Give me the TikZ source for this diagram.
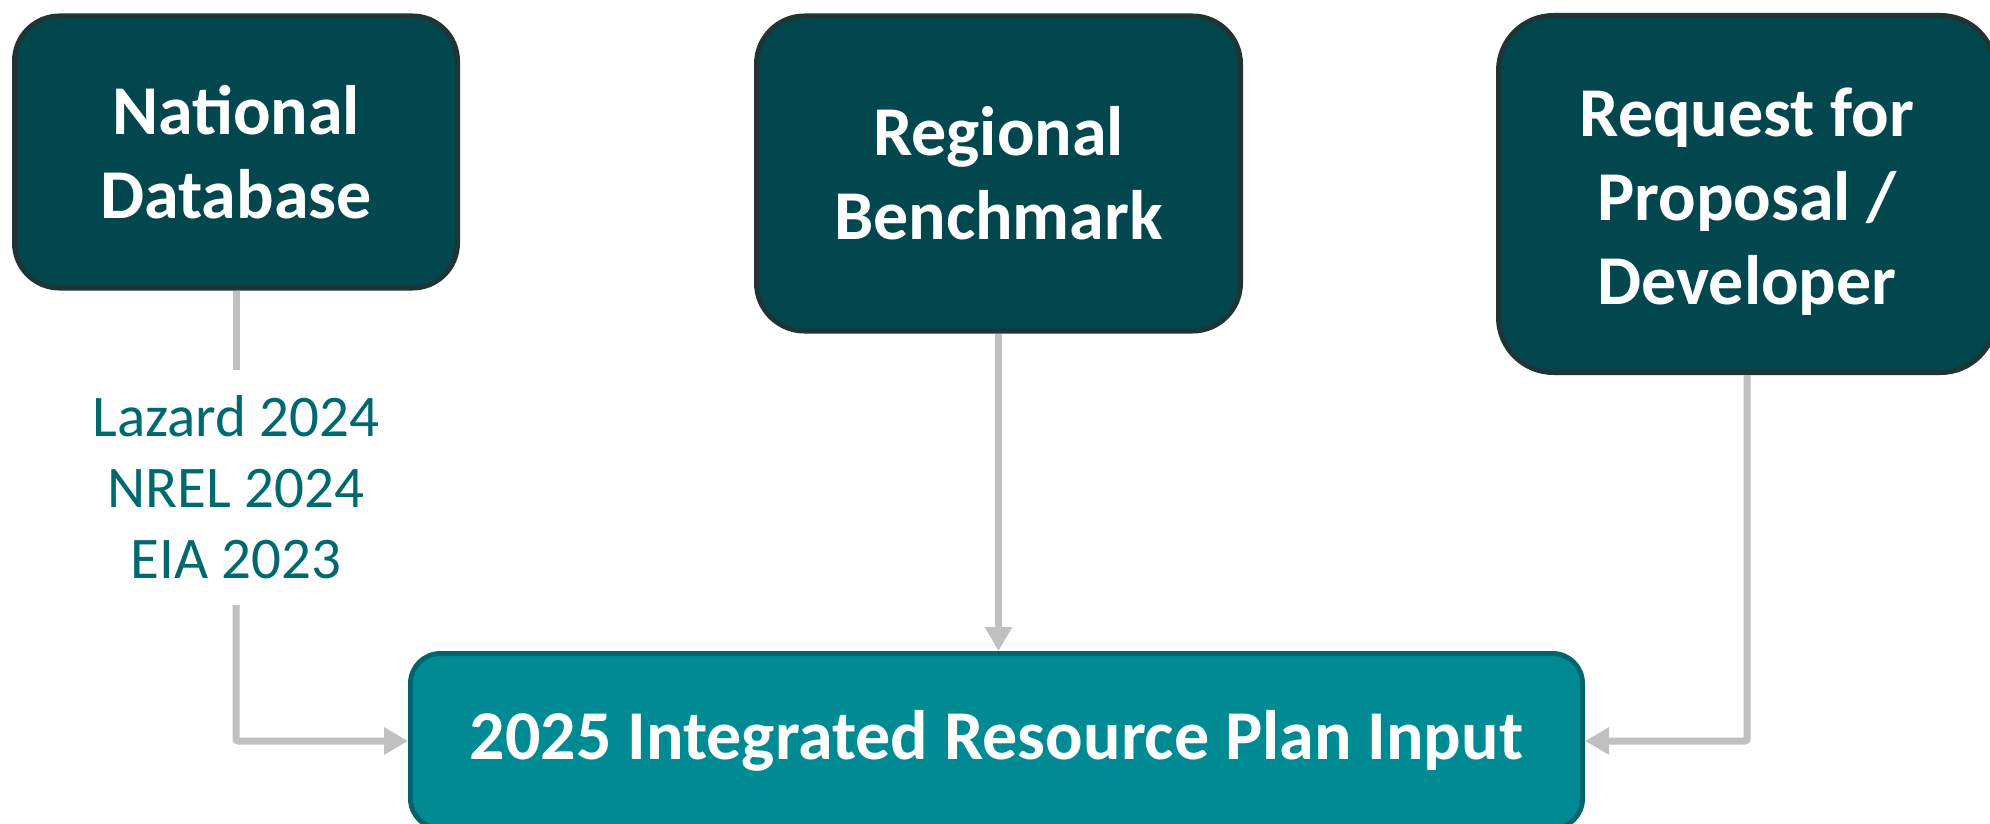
\documentclass[tikz,border=0pt]{standalone}
\usepackage{fontspec}
\setmainfont{Carlito}
\usetikzlibrary{arrows.meta}
\definecolor{darkbox}{HTML}{02474D}
\definecolor{darkedge}{HTML}{1F3434}
\definecolor{mainfill}{HTML}{008A94}
\definecolor{mainedge}{HTML}{00646C}
\definecolor{labtext}{HTML}{00686F}
\definecolor{conn}{HTML}{C0C0C0}
\tikzset{
  srcbox/.style={draw=darkedge, fill=darkbox, line width=5pt, text=white,
    align=center, inner sep=0pt, font=\bfseries\fontsize{70}{84}\selectfont},
  mainbox/.style={draw=mainedge, fill=mainfill, line width=5pt, text=white,
    rounded corners=30pt, align=center, inner sep=0pt,
    font=\bfseries\fontsize{70}{84}\selectfont},
  srclabel/.style={text=labtext, align=center, inner sep=0pt,
    font=\fontsize{59}{71}\selectfont},
  connector/.style={draw=conn, line width=7pt, rounded corners=2pt,
    -{Triangle[length=24pt,width=26pt]}},
  plainline/.style={draw=conn, line width=7pt}
}
\begin{document}
\begin{tikzpicture}[x=1pt,y=-1pt]
\useasboundingbox (0,0) rectangle (1990,824);
\node[srcbox, rounded corners=45pt, minimum width=443pt, minimum height=272pt]
  (nat) at (236,152) {National\\Database};
\node[srcbox, rounded corners=48pt, minimum width=484pt, minimum height=315pt]
  (reg) at (998.5,173.5) {Regional\\Benchmark};
\node[srcbox, rounded corners=55pt, minimum width=497pt, minimum height=357pt]
  (req) at (1747,194) {\rule{0pt}{64pt}Request for\\Proposal /\\Developer};
\node[mainbox, minimum width=1172pt, minimum height=175pt]
  (inp) at (996.5,741) {2025 Integrated Resource Plan Input};
\node[srclabel, minimum height=235pt] (lab) at (236,487.5)
  {Lazard 2024\\NREL 2024\\EIA 2023};
\draw[plainline] (nat.south) -- (lab.north);
\draw[connector] (lab.south) |- (inp.west);
\draw[connector] (reg.south) -- (reg.south |- inp.north);
\draw[connector] (req.south) |- (inp.east);
\end{tikzpicture}
\end{document}
